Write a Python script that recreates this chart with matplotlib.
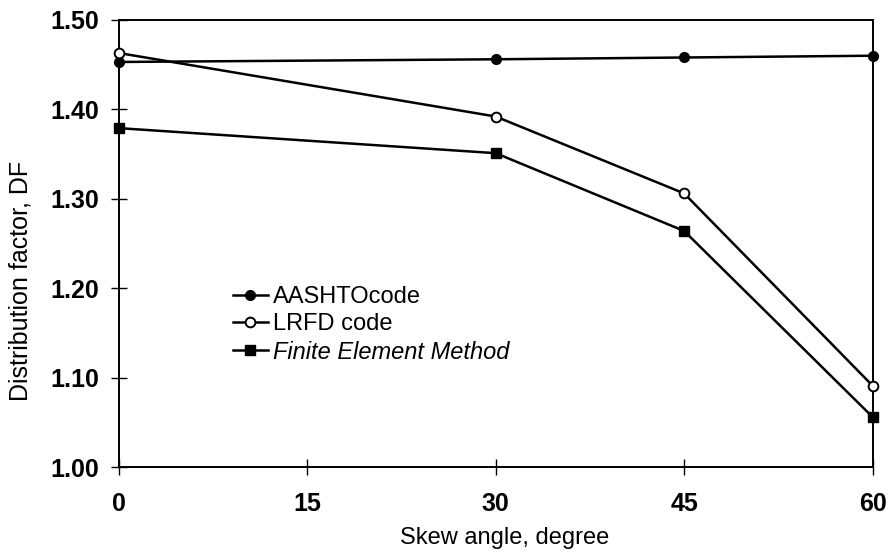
import matplotlib
matplotlib.use("Agg")
import matplotlib.pyplot as plt

# skew angle (degree)
skew = [0, 30, 45, 60]

# distribution factor
aashto = [1.453, 1.456, 1.458, 1.460]
lrfd = [1.463, 1.392, 1.306, 1.091]
fem = [1.379, 1.351, 1.264, 1.056]

x_ticks = [0, 15, 30, 45, 60]
y_ticks = [1.00, 1.10, 1.20, 1.30, 1.40, 1.50]

plt.rcParams['font.family'] = ['Liberation Sans', 'DejaVu Sans']

fig = plt.figure(figsize=(8.94, 5.54), dpi=100)
ax = fig.add_axes([0.133, 0.157, 0.843, 0.807])

ax.plot(skew, aashto, '-o', color='black', linewidth=1.8, markersize=7,
        label='AASHTOcode', clip_on=False, zorder=3)
ax.plot(skew, lrfd, '-o', color='black', linewidth=1.8, markersize=7,
        markerfacecolor='white', markeredgewidth=1.4, label='LRFD code',
        clip_on=False, zorder=3)
ax.plot(skew, fem, '-s', color='black', linewidth=1.8, markersize=7,
        label='Finite Element Method', clip_on=False, zorder=3)

ax.set_xlim(0, 60)
ax.set_ylim(1.00, 1.50)
ax.set_xticks(x_ticks)
ax.set_yticks(y_ticks)
ax.set_xticklabels([str(v) for v in x_ticks], fontsize=18, fontweight='bold')
ax.set_yticklabels([f"{v:.2f}" for v in y_ticks], fontsize=18, fontweight='bold')
ax.tick_params(direction='inout', length=12, width=1.0, pad=8, color='black')
ax.tick_params(axis='x', pad=12)

for s in ax.spines.values():
    s.set_linewidth(1.4)
    s.set_color('black')

ax.set_xlabel('Skew angle, degree', fontsize=17)
ax.set_ylabel('Distribution factor, DF', fontsize=18)
ax.xaxis.set_label_coords(0.512, -0.134)
ax.yaxis.set_label_coords(-0.115, 0.416)

leg = ax.legend(loc='center left', bbox_to_anchor=(0.151, 0.318), frameon=False,
                fontsize=17, handlelength=1.5, handletextpad=0.2,
                labelspacing=0.22, borderaxespad=0, borderpad=0)
leg.get_texts()[2].set_fontstyle('italic')

fig.savefig('out.png', dpi=100)
